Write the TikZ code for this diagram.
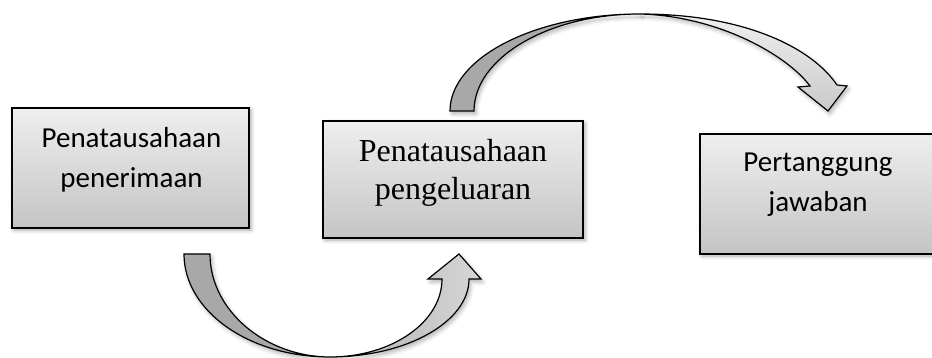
\documentclass[tikz,border=0pt]{standalone}
\usepackage{fontspec}
\newfontfamily\fcal{Carlito}
\newfontfamily\fser{Liberation Serif}
\usetikzlibrary{shadows.blur}
\tikzset{
  stagebox/.style={draw=black, line width=1.3pt, rectangle, inner sep=0pt, outer sep=0pt,
    top color=gray!13, bottom color=gray!46,
    blur shadow={shadow xshift=2pt, shadow yshift=-2pt, shadow blur radius=4pt, shadow opacity=35}},
  calline/.style={anchor=base, inner sep=0pt, font=\fcal\fontsize{29}{40}\selectfont},
  serline/.style={anchor=base, inner sep=0pt, font=\fser\fontsize{32}{38}\selectfont},
  arrowpart/.style={draw=black, line width=1.2pt, line join=miter},
  arrowshadow/.style={blur shadow={shadow xshift=2pt, shadow yshift=-3pt, shadow blur radius=4pt, shadow opacity=30}}
}
\begin{document}
\begin{tikzpicture}[x=1pt,y=-1pt]
\useasboundingbox (0,0) rectangle (932,358);
% boxes
\node[stagebox, minimum width=237pt, minimum height=120pt] (b1) at (130.5,168) {};
\node[stagebox, minimum width=260pt, minimum height=117pt] (b2) at (453,179.5) {};
\node[stagebox, minimum width=236pt, minimum height=120pt] (b3) at (818,194) {};
% texts
\node[calline] (t1a) at (131.5,148) {Penatausahaan};
\node[calline] (t1b) at (131.5,188) {penerimaan};
\node[serline] (t2a) at (453,162) {Penatausahaan};
\node[serline] (t2b) at (453,200) {pengeluaran};
\node[calline] (t3a) at (818,172) {Pertanggung};
\node[calline] (t3b) at (818,212) {jawaban};
% bottom curved arrow: from b1 to b2
\coordinate (ba) at (184,254);
\coordinate (bb) at (210,254);
\coordinate (bm) at (330,357);
\coordinate (bl) at (442,279);
\coordinate (bbl) at (428,279);
\coordinate (bt) at (459,254);
\coordinate (bbr) at (481,279);
\coordinate (br) at (469,279);
\path[arrowpart, arrowshadow, left color=gray!62, right color=gray!32]
  (bm) .. controls (406,357) and (469,322) .. (br) -- (bbr) -- (bt) -- (bbl) -- (bl)
  .. controls (442,322) and (392,357) .. (bm) -- cycle;
\path[arrowpart, arrowshadow, fill=gray!68]
  (ba) .. controls (184,311) and (249,357) .. (bm)
  .. controls (266,357) and (210,311) .. (bb) -- cycle;
% top curved arrow: from b2 to b3
\coordinate (ta) at (450,111);
\coordinate (tb) at (474,111);
\coordinate (tm) at (640,14);
\coordinate (tl) at (810,86);
\coordinate (tbl) at (798,87);
\coordinate (tt) at (828,111);
\coordinate (tbr) at (847,86);
\coordinate (tr) at (837,85);
\path[arrowpart, arrowshadow, top color=gray!12, bottom color=gray!42]
  (tm) .. controls (745,14) and (812,48) .. (tr) -- (tbr) -- (tt) -- (tbl) -- (tl)
  .. controls (787,55) and (718,16) .. (tm) -- cycle;
\path[arrowpart, arrowshadow, fill=gray!68]
  (ta) .. controls (450,58) and (535,14) .. (tm)
  .. controls (548,14) and (474,58) .. (tb) -- cycle;
\end{tikzpicture}
\end{document}
